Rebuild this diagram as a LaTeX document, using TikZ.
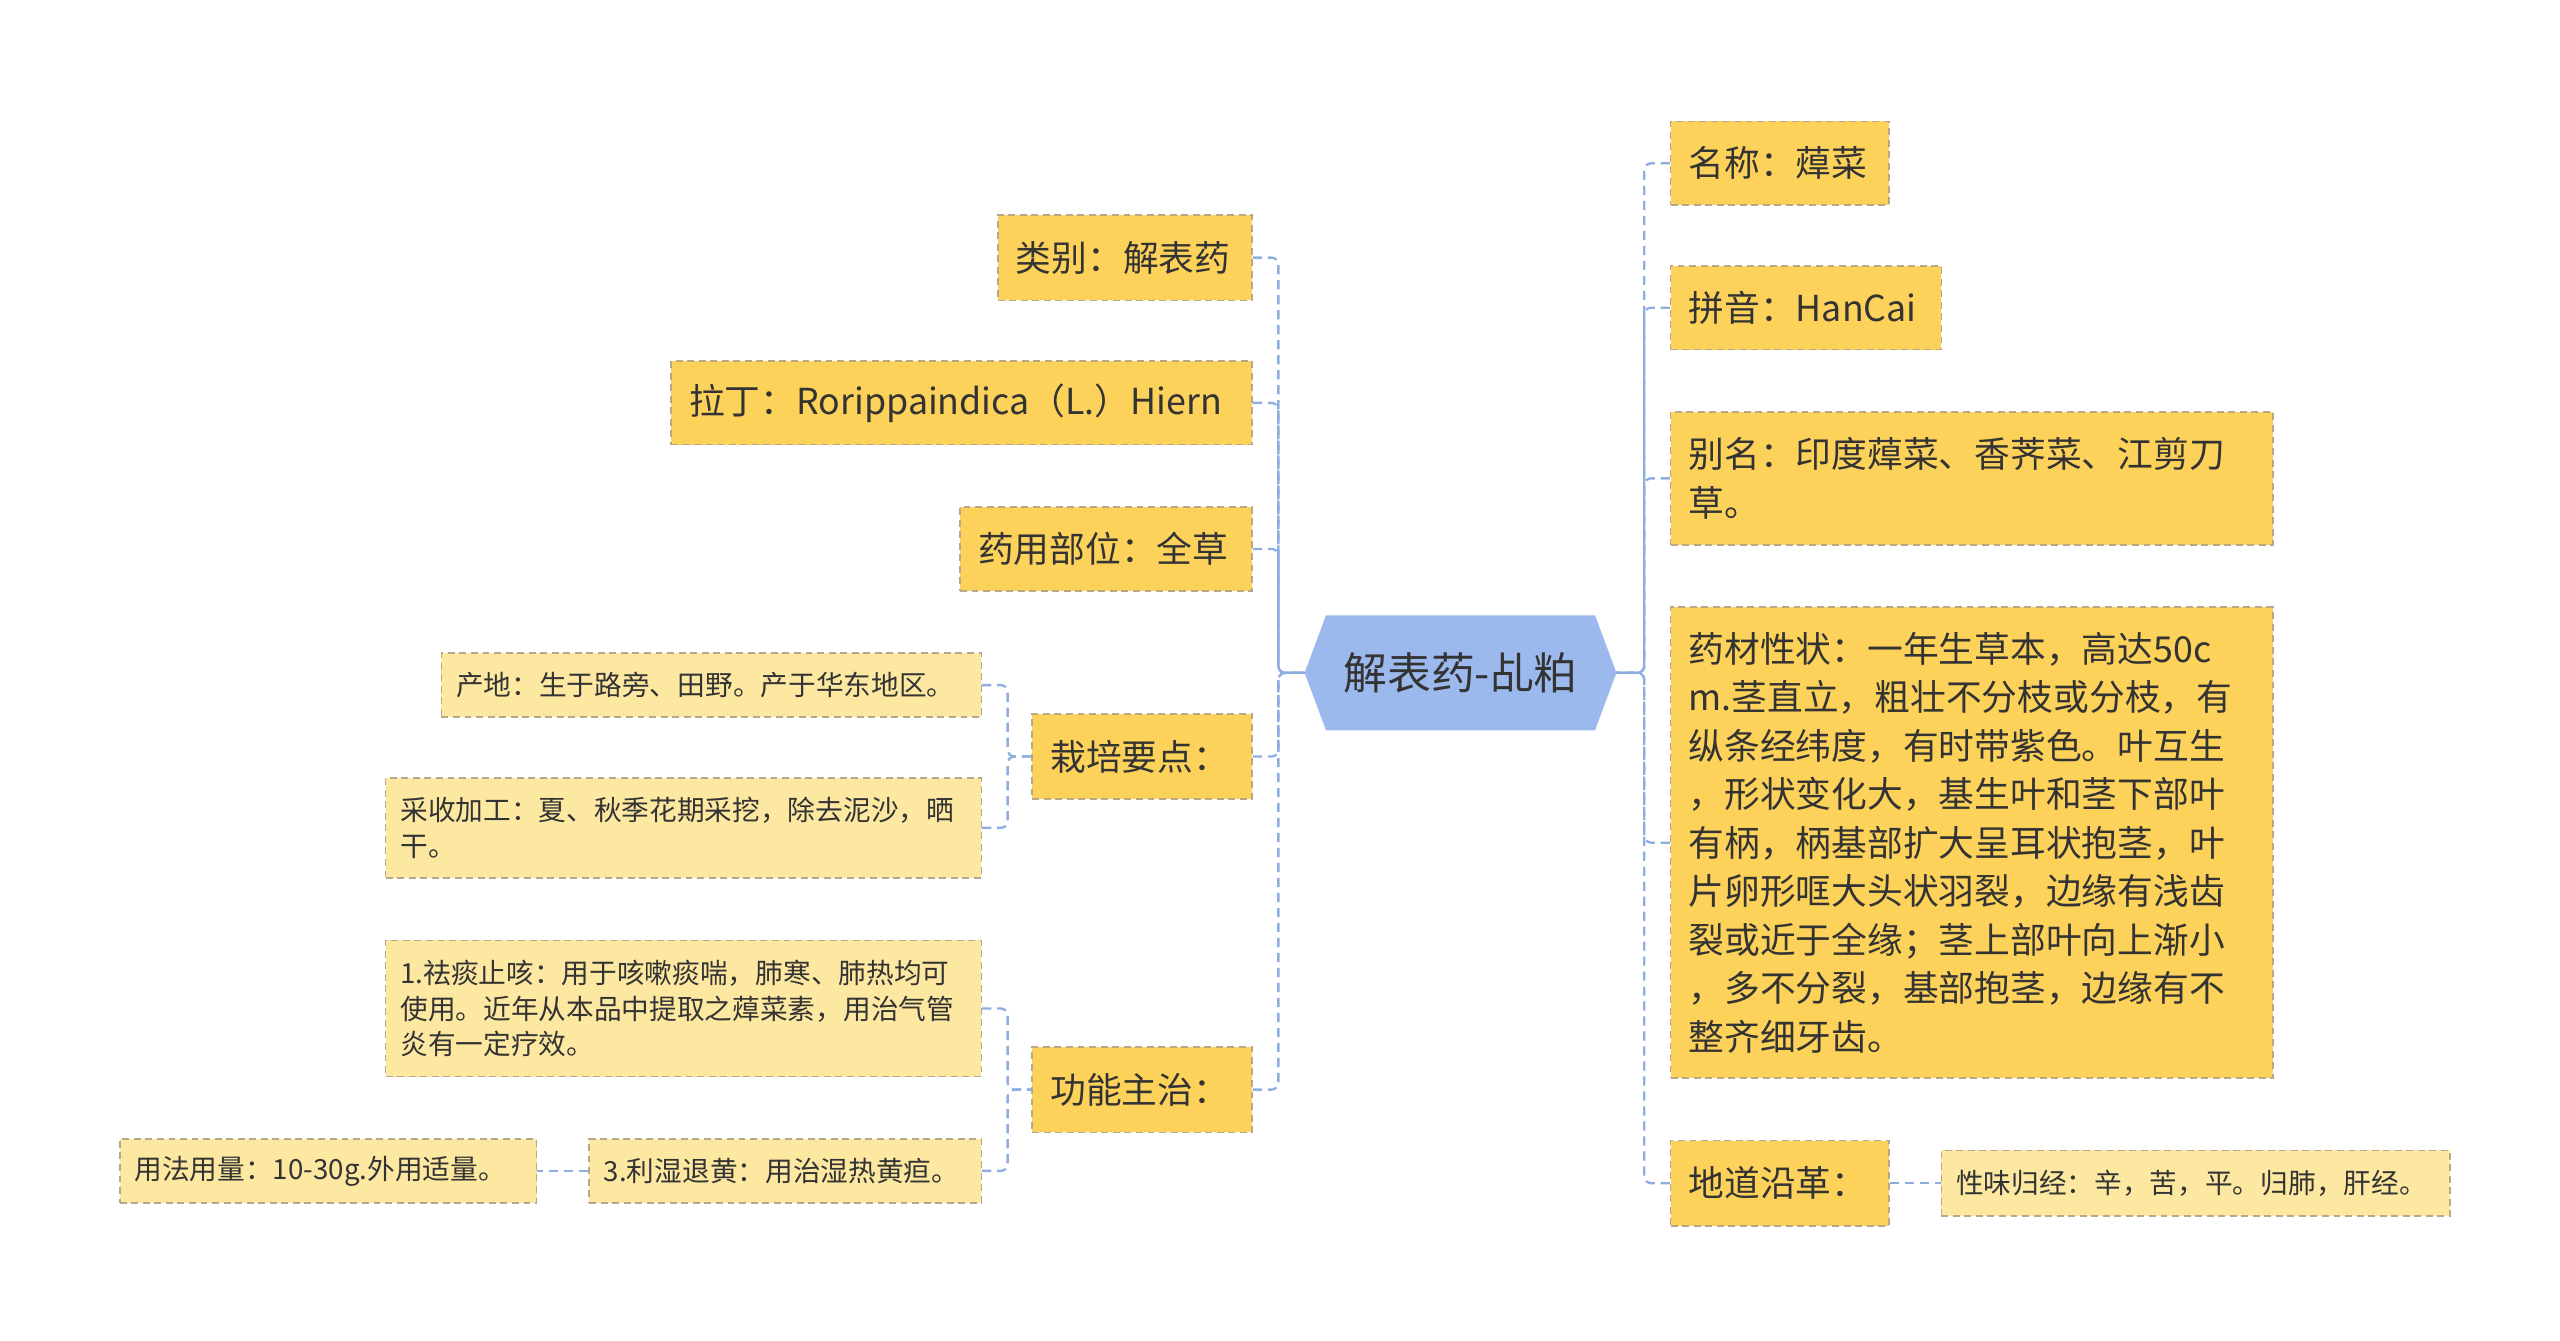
\documentclass[tikz,border=0pt]{standalone}
\usepackage{fontspec}
\setmainfont{Noto Sans CJK SC}
\definecolor{mainy}{HTML}{FCD25A}
\definecolor{suby}{HTML}{FDE8A2}
\definecolor{bord}{HTML}{B8A88A}
\definecolor{lnk}{HTML}{8FAEE0}
\definecolor{hexc}{HTML}{9BB9EC}
\definecolor{txt}{HTML}{333333}
\tikzset{
 box/.style={draw=bord,dash pattern=on 6pt off 4pt,line width=1.3pt,fill=mainy,text=txt,inner sep=0pt,font=\fontsize{31}{42}\selectfont,align=left},
 sbox/.style={draw=bord,dash pattern=on 6pt off 4pt,line width=1.3pt,fill=suby,text=txt,inner sep=0pt,font=\fontsize{24}{31}\selectfont,align=left},
 lk/.style={draw=lnk,dash pattern=on 8pt off 5pt,line width=2pt,rounded corners=6pt},
}
\newcommand{\bx}[7]{\node[#1,minimum width=#4*0.05cm,minimum height=#5*0.05cm,text width=#6*0.05cm] (#2) at (#3) {#7};}
\begin{document}
\begin{tikzpicture}[x=0.05cm,y=-0.05cm]
\useasboundingbox (0,0) rectangle (1560,817);
\fill[hexc] (795,410)--(808,375)--(972,375)--(985,410)--(972,445)--(808,445)--cycle;
\node[font=\fontsize{38}{42}\selectfont,text=txt] (ct) at (890,410) {解表药-乩粕};
\coordinate (cl) at (795,410); \coordinate (cr) at (985,410);
% left
\bx{box}{a1}{685.5,157}{155}{52}{133}{类别：解表药}
\bx{box}{a2}{586,245.5}{354}{51}{332}{拉丁：Rorippaindica（L.）Hiern}
\bx{box}{a3}{674,334.5}{178}{51}{156}{药用部位：全草}
\bx{box}{a4}{696,461}{134}{52}{112}{栽培要点：}
\bx{box}{a5}{696,664}{134}{52}{112}{功能主治：}
\bx{sbox}{b1}{433.5,417.5}{329}{39}{311}{产地：生于路旁、田野。产于华东地区。}
\bx{sbox}{b2}{416.5,504.5}{363}{61}{345}{采收加工：夏、秋季花期采挖，除去泥沙，晒\\干。}
\bx{sbox}{b3}{416.5,614.5}{363}{83}{345}{1.祛痰止咳：用于咳嗽痰喘，肺寒、肺热均可\\使用。近年从本品中提取之蔊菜素，用治气管\\炎有一定疗效。}
\bx{sbox}{b4}{478.5,713.5}{239}{39}{221}{3.利湿退黄：用治湿热黄疸。}
\bx{sbox}{b5}{200,713.5}{254}{39}{236}{用法用量：10-30g.外用适量。}
% right
\bx{box}{r1}{1084.5,99.5}{133}{51}{111}{名称：蔊菜}
\bx{box}{r2}{1100.5,187.5}{165}{51}{143}{拼音：HanCai}
\bx{box}{r3}{1201.5,291.5}{367}{81}{345}{别名：印度蔊菜、香荠菜、江剪刀\\草。}
\bx{box}{r4}{1201.5,513.5}{367}{287}{345}{药材性状：一年生草本，高达50c\\m.茎直立，粗壮不分枝或分枝，有\\纵条经纬度，有时带紫色。叶互生\\，形状变化大，基生叶和茎下部叶\\有柄，柄基部扩大呈耳状抱茎，叶\\片卵形哐大头状羽裂，边缘有浅齿\\裂或近于全缘；茎上部叶向上渐小\\，多不分裂，基部抱茎，边缘有不\\整齐细牙齿。}
\bx{box}{r5}{1084.5,721}{133}{52}{111}{地道沿革：}
\bx{sbox}{s1}{1338,721}{310}{40}{292}{性味归经：辛，苦，平。归肺，肝经。}
% links left
\draw[lk] (cl) -- (779,410);
\foreach \n in {a1,a2,a3,a4,a5}{\draw[lk] (\n.east) -- (779,0 |- \n.east) |- (cl);}
\foreach \n in {b1,b2}{\draw[lk] (\n.east) -- (614,0 |- \n.east) |- (a4.west);}
\foreach \n in {b3,b4}{\draw[lk] (\n.east) -- (614,0 |- \n.east) |- (a5.west);}
\draw[lk] (b4.west) -- (b5.east);
% links right
\draw[lk] (cr) -- (1002,410);
\foreach \n in {r1,r2,r3,r4,r5}{\draw[lk] (\n.west) -- (1002,0 |- \n.west) |- (cr);}
\draw[lk] (r5.east) -- (s1.west);
\end{tikzpicture}
\end{document}
